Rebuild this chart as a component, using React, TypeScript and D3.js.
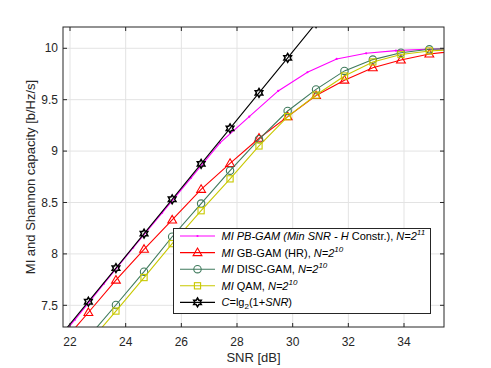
import React from "react";
import * as d3 from "d3";

// SNR positions (dB) of the markers
const snrMain = [21.64, 22.66, 23.65, 24.66, 25.67, 26.71, 27.75, 28.79, 29.82, 30.84, 31.86, 32.88, 33.89, 34.91, 35.93];
const gbGam = [7.11, 7.43, 7.745, 8.045, 8.33, 8.628, 8.88, 9.125, 9.335, 9.54, 9.69, 9.81, 9.886, 9.945, 9.975];
const discGam = [6.87, 7.19, 7.503, 7.827, 8.167, 8.49, 8.81, 9.115, 9.39, 9.6, 9.78, 9.89, 9.957, 9.99, 9.998];
const qam = [6.81, 7.13, 7.444, 7.77, 8.1, 8.42, 8.73, 9.05, 9.335, 9.545, 9.73, 9.867, 9.94, 9.974, 9.99];
const shannon = [7.199, 7.535, 7.862, 8.197, 8.531, 8.876, 9.221, 9.566, 9.907, 10.246];

const snrPb = [21.14, 22.18, 23.22, 24.27, 25.31, 26.35, 27.39, 28.44, 29.48, 30.53, 31.58, 32.64, 33.71, 34.77, 35.8];
const pbGam = [7.03, 7.36, 7.71, 8.06, 8.4, 8.74, 9.08, 9.335, 9.585, 9.767, 9.896, 9.951, 9.977, 9.99, 9.997];

const xTicks = [22, 24, 26, 28, 30, 32, 34];
const yTicks = [7.5, 8, 8.5, 9, 9.5, 10];

const W = 491, H = 368;
const L = 63, R = 444, T = 27, B = 327;
const FONT = "'Liberation Sans', Arial, Helvetica, sans-serif";

const x = d3.scaleLinear().domain([21.748, 35.437]).range([L, R]);
const y = d3.scaleLinear().domain([7.289, 10.207]).range([B, T]);

const C_MAG = "#ff00ff", C_RED = "#ff0000", C_GRN = "#3f7a5c", C_YEL = "#c8c800", C_BLK = "#000000";

function hexagram(r: number) {
  const pts: string[] = [];
  const ri = r * 0.58;
  for (let i = 0; i < 12; i++) {
    const a = -Math.PI / 2 + (i * Math.PI) / 6;
    const rr = i % 2 === 0 ? r : ri;
    pts.push(`${(rr * Math.cos(a)).toFixed(2)},${(rr * Math.sin(a)).toFixed(2)}`);
  }
  return "M" + pts.join("L") + "Z";
}

type MarkerKind = "dot" | "tri" | "circ" | "sq" | "hex";

function Marker({ kind, color, cx, cy }: { kind: MarkerKind; color: string; cx: number; cy: number }) {
  const t = `translate(${cx},${cy})`;
  if (kind === "dot") return <circle cx={cx} cy={cy} r={1.1} fill={color} />;
  if (kind === "tri") return <path transform={t} d="M0,-4.6L4.4,3L-4.4,3Z" fill="none" stroke={color} strokeWidth={1.1} />;
  if (kind === "circ") return <circle cx={cx} cy={cy} r={3.7} fill="none" stroke={color} strokeWidth={1.1} />;
  if (kind === "sq") return <rect x={cx - 3.1} y={cy - 3.1} width={6.2} height={6.2} fill="none" stroke={color} strokeWidth={1.1} />;
  return <path transform={t} d={hexagram(4.4)} fill="none" stroke={color} strokeWidth={1.5} />;
}

const line = d3.line<[number, number]>().x((d) => x(d[0])).y((d) => y(d[1]));

const series = [
  { xs: snrPb, ys: pbGam, color: C_MAG, kind: "dot" as MarkerKind },
  { xs: snrMain, ys: gbGam, color: C_RED, kind: "tri" as MarkerKind },
  { xs: snrMain, ys: discGam, color: C_GRN, kind: "circ" as MarkerKind },
  { xs: snrMain, ys: qam, color: C_YEL, kind: "sq" as MarkerKind },
  { xs: snrMain.slice(0, shannon.length), ys: shannon, color: C_BLK, kind: "hex" as MarkerKind },
];

export default function App() {
  const legendRows = [0, 1, 2, 3, 4].map((i) => 236 + i * 16.6);
  return (
    <svg width={W} height={H} style={{ position: "absolute", left: 0, top: 0, background: "#fff" }} fontFamily={FONT}>
      <defs>
        <clipPath id="plotclip">
          <rect x={L} y={T} width={R - L} height={B - T} />
        </clipPath>
      </defs>
      <rect x={L} y={T} width={R - L} height={B - T} fill="#fff" />
      {/* grid */}
      {xTicks.map((t) => (
        <line key={"gx" + t} x1={x(t)} x2={x(t)} y1={T} y2={B} stroke="#e3e3e3" strokeWidth={1} />
      ))}
      {yTicks.map((t) => (
        <line key={"gy" + t} x1={L} x2={R} y1={y(t)} y2={y(t)} stroke="#e3e3e3" strokeWidth={1} />
      ))}
      {/* data */}
      <g clipPath="url(#plotclip)">
        {series.map((s, si) => {
          const pts = s.xs.map((v, i) => [v, s.ys[i]] as [number, number]);
          return (
            <g key={si}>
              <path d={line(pts) || ""} fill="none" stroke={s.color} strokeWidth={1.1} />
              {pts.map((p, i) => (
                <Marker key={i} kind={s.kind} color={s.color} cx={x(p[0])} cy={y(p[1])} />
              ))}
            </g>
          );
        })}
      </g>
      {/* axes box */}
      <rect x={L} y={T} width={R - L} height={B - T} fill="none" stroke="#262626" strokeWidth={1} />
      {xTicks.map((t) => (
        <g key={"tx" + t}>
          <line x1={x(t)} x2={x(t)} y1={B} y2={B - 4} stroke="#262626" />
          <line x1={x(t)} x2={x(t)} y1={T} y2={T + 4} stroke="#262626" />
          <text x={x(t)} y={346} textAnchor="middle" fontSize={12} fill="#262626">{t}</text>
        </g>
      ))}
      {yTicks.map((t) => (
        <g key={"ty" + t}>
          <line x1={L} x2={L + 4} y1={y(t)} y2={y(t)} stroke="#262626" />
          <line x1={R} x2={R - 4} y1={y(t)} y2={y(t)} stroke="#262626" />
          <text x={58} y={y(t) + 4.2} textAnchor="end" fontSize={12} fill="#262626">{t}</text>
        </g>
      ))}
      <text x={(L + R) / 2} y={362} textAnchor="middle" fontSize={13} fill="#262626">SNR [dB]</text>
      <text transform={`translate(35,${(T + B) / 2}) rotate(-90)`} textAnchor="middle" fontSize={13} fill="#262626">
        MI and Shannon capacity [b/Hz/s]
      </text>
      {/* legend */}
      <rect x={173.5} y={228.5} width={257} height={85} fill="#fff" stroke="#262626" strokeWidth={1} />
      {series.map((s, i) => (
        <g key={"lg" + i}>
          <line x1={180} x2={215} y1={legendRows[i]} y2={legendRows[i]} stroke={s.color} strokeWidth={1.1} />
          <Marker kind={s.kind} color={s.color} cx={197.5} cy={legendRows[i]} />
        </g>
      ))}
      <g fontSize={11} fill="#000">
        <text x={221.5} y={legendRows[0] + 4}>
          <tspan fontStyle="italic">MI PB-GAM (Min SNR -  H</tspan>
          <tspan> Constr.), </tspan>
          <tspan fontStyle="italic">N=2</tspan>
          <tspan fontStyle="italic" fontSize={8} dy={-5}>11</tspan>
        </text>
        <text x={221.5} y={legendRows[1] + 4}>
          <tspan fontStyle="italic">MI</tspan>
          <tspan> GB-GAM (HR), </tspan>
          <tspan fontStyle="italic">N=2</tspan>
          <tspan fontStyle="italic" fontSize={8} dy={-5}>10</tspan>
        </text>
        <text x={221.5} y={legendRows[2] + 4}>
          <tspan fontStyle="italic">MI</tspan>
          <tspan> DISC-GAM,  </tspan>
          <tspan fontStyle="italic">N=2</tspan>
          <tspan fontStyle="italic" fontSize={8} dy={-5}>10</tspan>
        </text>
        <text x={221.5} y={legendRows[3] + 4}>
          <tspan fontStyle="italic">MI</tspan>
          <tspan> QAM,  </tspan>
          <tspan fontStyle="italic">N=2</tspan>
          <tspan fontStyle="italic" fontSize={8} dy={-5}>10</tspan>
        </text>
        <text x={221.5} y={legendRows[4] + 4}>
          <tspan fontStyle="italic">C</tspan>
          <tspan>=lg</tspan>
          <tspan fontSize={8} dy={3}>2</tspan>
          <tspan dy={-3}>(1+</tspan>
          <tspan fontStyle="italic">SNR</tspan>
          <tspan>)</tspan>
        </text>
      </g>
    </svg>
  );
}
